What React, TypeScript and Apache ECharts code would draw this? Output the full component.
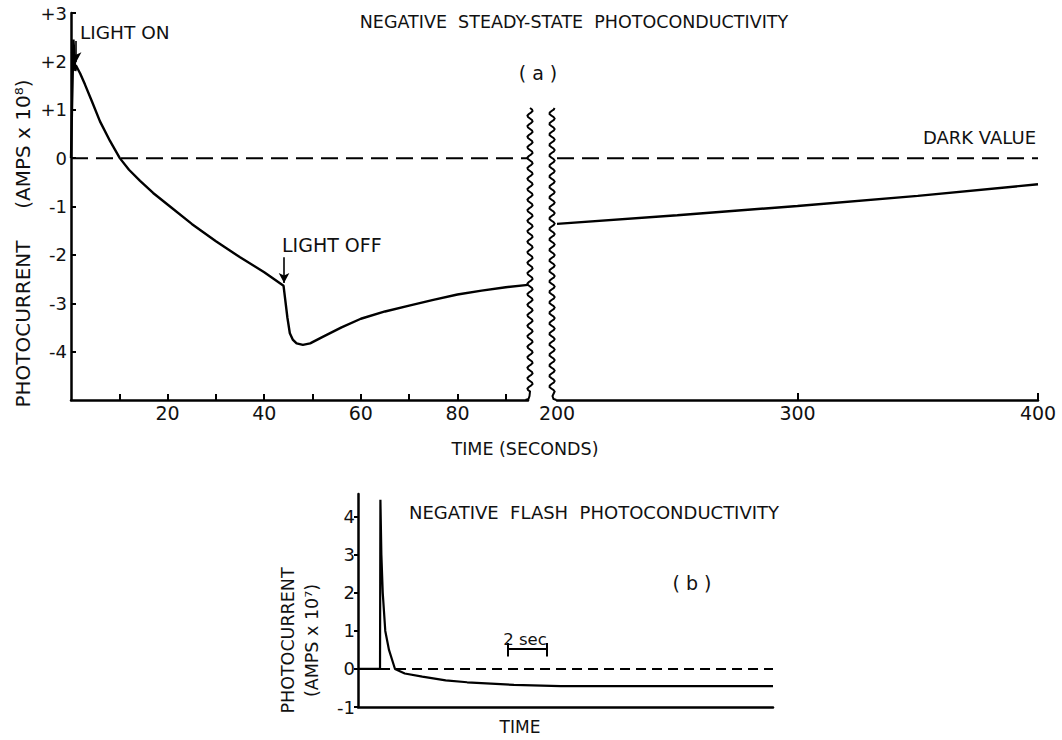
import React, { useEffect, useRef } from "react";
import * as echarts from "echarts";

// Panel (a): steady-state photocurrent (amps x 10^8) vs time (s), before the axis break
const earlyTime = [0, 0.5, 0.9, 1.0, 1.9, 2.9, 4.3, 6.0, 8.1, 10.1, 12, 14.3, 17, 20.5, 25, 30, 35, 40, 44, 44.8, 45.3, 45.9, 46.7, 48, 49.5, 52, 56, 60, 65, 70, 75, 80, 85, 90, 94.6];
const earlyCurrent = [0, 2.45, 1.8, 1.92, 1.75, 1.52, 1.18, 0.76, 0.35, 0, -0.24, -0.47, -0.72, -1.0, -1.36, -1.72, -2.05, -2.36, -2.64, -3.3, -3.62, -3.75, -3.83, -3.86, -3.83, -3.7, -3.5, -3.32, -3.17, -3.05, -2.93, -2.82, -2.74, -2.67, -2.62];
// Panel (a): after the axis break
const lateTime = [200, 250, 300, 350, 400];
const lateCurrent = [-1.36, -1.18, -0.99, -0.78, -0.54];

// Panel (b): flash photocurrent (amps x 10^7) vs time (s)
const flashTime = [0, 1.13, 1.15, 1.2, 1.27, 1.4, 1.59, 1.9, 2.4, 3.3, 4.5, 5.6, 8, 10.4, 21.3];
const flashCurrent = [0, 0, 4.45, 3.0, 2.0, 1.0, 0.5, 0, -0.12, -0.2, -0.3, -0.35, -0.42, -0.45, -0.45];

// Tick labels
const earlyTicks = [10, 20, 30, 40, 50, 60, 70, 80, 90];
const earlyLabels = [20, 40, 60, 80];
const lateTicks = [300, 400];
const lateLabels = [200, 300, 400];
const steadyTicks = [-4, -3, -2, -1, 0, 1, 2, 3];
const flashTicks = [-1, 0, 1, 2, 3, 4];

// Dark-value reference level and the 2-second scale bar of panel (b)
const darkLevel = 0;
const scaleBarStart = 7.69;
const scaleBarEnd = 9.69;
const scaleBarLevel = 0.53;

const FONT = "'DejaVu Sans', 'Liberation Sans', Arial, sans-serif";
const INK = "#111";

const zip = (xs: number[], ys: number[]) => xs.map((x, i) => [x, ys[i]]);

// Wavy break mark drawn as a polyline, ending in a curl into the time axis
function breakMark(cx: number, top: number, bottom: number, phase: number, endDir: number) {
  const pts: number[][] = [];
  for (let y = top; y <= bottom - 8; y += 1.5) {
    pts.push([cx + 2.6 * Math.sin((2 * Math.PI * (y - top)) / 10.5 + phase), y]);
  }
  pts.push([cx + endDir * 0.5, bottom - 4]);
  pts.push([cx + endDir * 1.5, bottom - 1]);
  pts.push([cx + endDir * 4.5, bottom]);
  return pts;
}

const axisLineStyle = { color: "#000", width: 2.5 };

export default function App() {
  const ref = useRef<HTMLDivElement>(null);

  useEffect(() => {
    if (!ref.current) return;
    const chart = echarts.init(ref.current, null, { renderer: "svg" });

    const text = (t: string, x: number, y: number, size: number, align = "left") => ({
      type: "text",
      x,
      y,
      style: {
        text: t,
        fontSize: size,
        fontFamily: FONT,
        fill: INK,
        align,
        verticalAlign: "middle",
      },
    });

    const option: any = {
      animation: false,
      backgroundColor: "#fff",
      grid: [
        { left: 71, top: 13, width: 457, height: 387, outerBoundsMode: "none" },
        { left: 557, top: 13, width: 481, height: 387, outerBoundsMode: "none" },
        { left: 358, top: 494, width: 415, height: 213, outerBoundsMode: "none" },
      ],
      xAxis: [
        {
          gridIndex: 0,
          type: "value",
          min: 0,
          max: 94.6,
          axisLine: { onZero: false, lineStyle: axisLineStyle },
          axisTick: { show: true, inside: true, length: 6, customValues: earlyTicks, lineStyle: { width: 2, color: "#000" } },
          axisLabel: { customValues: earlyLabels, fontSize: 19, fontFamily: FONT, color: INK, margin: 3 },
          splitLine: { show: false },
        },
        {
          gridIndex: 1,
          type: "value",
          min: 200,
          max: 400,
          interval: 100,
          axisLine: { onZero: false, lineStyle: axisLineStyle },
          axisTick: { show: true, inside: true, length: 7, customValues: lateTicks, lineStyle: { width: 2, color: "#000" } },
          axisLabel: { customValues: lateLabels, fontSize: 19, fontFamily: FONT, color: INK, margin: 3 },
          splitLine: { show: false },
        },
        {
          gridIndex: 2,
          type: "value",
          min: 0,
          max: 21.3,
          axisLine: { onZero: false, lineStyle: axisLineStyle },
          axisTick: { show: false },
          axisLabel: { show: false },
          splitLine: { show: false },
        },
      ],
      yAxis: [
        {
          gridIndex: 0,
          type: "value",
          min: -5,
          max: 3,
          interval: 1,
          axisLine: { show: true, onZero: false, lineStyle: axisLineStyle },
          axisTick: { show: true, inside: true, length: 5, customValues: steadyTicks, lineStyle: { width: 2, color: "#000" } },
          axisLabel: {
            customValues: steadyTicks,
            formatter: (v: number) => (v > 0 ? "+" + v : String(v)),
            fontSize: 18,
            fontFamily: FONT,
            color: INK,
            margin: 4,
          },
          splitLine: { show: false },
          name: "PHOTOCURRENT     (AMPS x 10⁸)",
          nameLocation: "middle",
          nameRotate: 90,
          nameGap: 38,
          nameTextStyle: { fontSize: 20, fontFamily: FONT, color: INK, padding: [0, 74, 0, 0] },
        },
        {
          gridIndex: 1,
          type: "value",
          min: -5,
          max: 3,
          show: false,
        },
        {
          gridIndex: 2,
          type: "value",
          min: -1,
          max: 4.6,
          interval: 1,
          axisLine: { show: true, onZero: false, lineStyle: axisLineStyle },
          axisTick: { show: true, inside: false, length: 4, customValues: flashTicks, lineStyle: { width: 2, color: "#000" } },
          axisLabel: { customValues: flashTicks, fontSize: 18, fontFamily: FONT, color: INK, margin: 3 },
          splitLine: { show: false },
          name: "PHOTOCURRENT\n(AMPS x 10⁷)",
          nameLocation: "middle",
          nameRotate: 90,
          nameGap: 34,
          nameTextStyle: { fontSize: 17.5, fontFamily: FONT, color: INK, lineHeight: 24, padding: [0, 80, 0, 0] },
        },
      ],
      series: [
        {
          name: "steady-state (before break)",
          type: "line",
          xAxisIndex: 0,
          yAxisIndex: 0,
          data: zip(earlyTime, earlyCurrent),
          showSymbol: false,
          symbol: "none",
          lineStyle: { color: "#000", width: 2.4 },
          markLine: {
            silent: true,
            symbol: ["none", "arrow"],
            symbolSize: [8, 10],
            label: { show: false },
            lineStyle: { color: "#000", width: 1.6, type: "solid" },
            data: [
              [{ coord: [1.05, 2.42] }, { coord: [1.05, 1.98] }],
              [{ coord: [44.1, -2.05] }, { coord: [44.1, -2.58] }],
            ],
          },
          z: 3,
        },
        {
          name: "dark value (before break)",
          type: "line",
          xAxisIndex: 0,
          yAxisIndex: 0,
          data: [[0, darkLevel], [94.6, darkLevel]],
          symbol: "none",
          lineStyle: { color: "#000", width: 2, type: [17, 8] },
          z: 2,
        },
        {
          name: "steady-state (after break)",
          type: "line",
          xAxisIndex: 1,
          yAxisIndex: 1,
          data: zip(lateTime, lateCurrent),
          symbol: "none",
          lineStyle: { color: "#000", width: 2.4 },
          z: 3,
        },
        {
          name: "dark value (after break)",
          type: "line",
          xAxisIndex: 1,
          yAxisIndex: 1,
          data: [[200, darkLevel], [400, darkLevel]],
          symbol: "none",
          lineStyle: { color: "#000", width: 2, type: [17, 8] },
          z: 2,
        },
        {
          name: "flash",
          type: "line",
          xAxisIndex: 2,
          yAxisIndex: 2,
          data: zip(flashTime, flashCurrent),
          symbol: "none",
          lineStyle: { color: "#000", width: 2.2 },
          z: 3,
        },
        {
          name: "dark value (flash)",
          type: "line",
          xAxisIndex: 2,
          yAxisIndex: 2,
          data: [[1.13, darkLevel], [21.3, darkLevel]],
          symbol: "none",
          lineStyle: { color: "#000", width: 2, type: [10, 6] },
          markLine: {
            silent: true,
            symbol: ["none", "none"],
            lineStyle: { color: "#000", width: 2, type: "solid" },
            label: { show: false },
            data: [
              [{ coord: [scaleBarStart, scaleBarLevel] }, { coord: [scaleBarEnd, scaleBarLevel] }],
              [{ coord: [scaleBarStart, scaleBarLevel - 0.2] }, { coord: [scaleBarStart, scaleBarLevel + 0.15] }],
              [{ coord: [scaleBarEnd, scaleBarLevel - 0.2] }, { coord: [scaleBarEnd, scaleBarLevel + 0.15] }],
            ],
          },
          z: 2,
        },
      ],
      graphic: [
        { type: "polyline", shape: { points: breakMark(530, 108, 400, 0, -1) }, style: { stroke: "#000", lineWidth: 2, fill: null }, z: 10 },
        { type: "polyline", shape: { points: breakMark(552, 108, 400, 1.5, 1) }, style: { stroke: "#000", lineWidth: 2, fill: null }, z: 10 },
        text("NEGATIVE  STEADY-STATE  PHOTOCONDUCTIVITY", 574, 22, 17.5, "center"),
        text("( a )", 538, 73, 19, "center"),
        text("LIGHT ON", 80, 32, 18.5),
        text("LIGHT OFF", 282, 245, 19),
        text("DARK VALUE", 1036, 137, 18, "right"),
        text("TIME (SECONDS)", 525, 449, 17.5, "center"),
        text("NEGATIVE  FLASH  PHOTOCONDUCTIVITY", 594, 512, 18, "center"),
        text("( b )", 692, 583, 19, "center"),
        text("2 sec", 525, 639, 16.5, "center"),
        text("TIME", 520, 727, 17, "center"),
      ],
    };

    chart.setOption(option);
    return () => chart.dispose();
  }, []);

  return (
    <div
      ref={ref}
      style={{ position: "absolute", left: 0, top: 0, width: 1062, height: 740, background: "#fff" }}
    />
  );
}
